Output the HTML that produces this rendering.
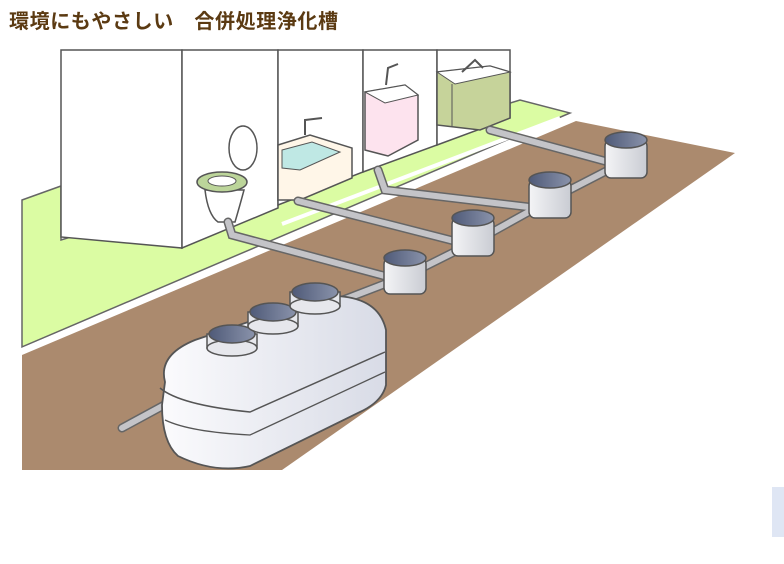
<!DOCTYPE html>
<html><head><meta charset="utf-8"><style>
html,body{margin:0;padding:0;background:#fff;width:784px;height:564px;overflow:hidden;position:relative}
.t{position:absolute;left:9px;top:5px;font:bold 20px "Liberation Sans","Noto Sans CJK JP",sans-serif;color:#5b3a12;letter-spacing:0.6px}
.b{position:absolute;left:772px;top:487px;width:12px;height:50px;background:#dfe6f4}
svg{position:absolute;left:0;top:0}
</style></head><body>
<div class="t">環境にもやさしい　合併処理浄化槽</div>
<div class="b"></div>
<svg width="784" height="564" viewBox="0 0 784 564">
<defs>
<linearGradient id="tg" x1="0" x2="1"><stop offset="0" stop-color="#fbfbfd"/><stop offset="1" stop-color="#d8dbe6"/></linearGradient>
<linearGradient id="mg" x1="0" x2="1"><stop offset="0" stop-color="#f4f4f6"/><stop offset="1" stop-color="#c9ccd3"/></linearGradient>
<linearGradient id="lg" x1="0" x2="1"><stop offset="0" stop-color="#4f5a78"/><stop offset="1" stop-color="#8a93ab"/></linearGradient>
</defs>
<polygon points="22,200 61,186 61,240 520,100 570,113 22,347" fill="#dbfca3" stroke="#666" stroke-width="1.5"/>
<polygon points="22,355 576,121 735,153 282,470 22,470" fill="#ab8a6e"/>
<line x1="22" y1="351" x2="575" y2="117" stroke="#fff" stroke-width="6"/>
<line x1="282" y1="224" x2="560" y2="118" stroke="#fff" stroke-width="4"/>
<polygon points="61,50 182,50 182,248 61,237" fill="#fff" stroke="#555" stroke-width="1.5"/>
<polygon points="182,50 278,50 278,208 182,248" fill="#fff" stroke="#555" stroke-width="1.5"/>
<polygon points="278,50 363,50 363,172 278,205" fill="#fff" stroke="#555" stroke-width="1.5"/>
<polygon points="363,50 437,50 437,145 363,172" fill="#fff" stroke="#555" stroke-width="1.5"/>
<polygon points="437,50 510,50 510,118 437,145" fill="#fff" stroke="#555" stroke-width="1.5"/>
<ellipse cx="243" cy="148" rx="14" ry="22" fill="#fff" stroke="#555" stroke-width="1.5"/>
<path d="M205,190 Q208,215 218,222 L235,222 Q240,205 244,190 Z" fill="#fff" stroke="#555" stroke-width="1.5"/>
<ellipse cx="222" cy="182" rx="25" ry="10" fill="#bcd59a" stroke="#555" stroke-width="1.5"/>
<ellipse cx="222" cy="181" rx="14" ry="5" fill="#fff" stroke="#555"/>
<polygon points="278,145 310,135 352,148 352,178 300,200 278,200" fill="#fff6e8" stroke="#555" stroke-width="1.5"/>
<path d="M282,150 L312,142 L340,152 L300,170 L282,168 Z" fill="#bfe8e4" stroke="#555"/>
<path d="M305,135 L305,120 L322,118" fill="none" stroke="#555" stroke-width="2"/>
<polygon points="365,92 405,85 418,95 418,140 388,156 365,150" fill="#fde3ee" stroke="#555" stroke-width="1.5"/>
<polygon points="365,92 405,85 418,95 385,103" fill="#fff" stroke="#555"/>
<path d="M386,85 L388,68 L398,64" fill="none" stroke="#555" stroke-width="2"/>
<polygon points="437,72 490,66 510,72 510,118 480,130 437,125" fill="#c6d39a" stroke="#555" stroke-width="1.5"/>
<polygon points="437,72 490,66 510,72 455,84" fill="#fff" stroke="#555"/>
<line x1="452" y1="84" x2="452" y2="126" stroke="#555"/>
<path d="M462,72 L475,60 L483,68" fill="none" stroke="#555" stroke-width="2"/>
<g stroke="#666" stroke-width="9" stroke-linecap="round" fill="none">
<path d="M228,222 L232,235 L392,278"/><path d="M298,201 L462,243"/><path d="M378,170 L385,190 L537,208"/><path d="M490,130 L612,163"/>
<path d="M612,168 L550,200 L478,240 L408,275 L330,305"/><path d="M192,390 L122,428"/>
</g>
<g stroke="#c4c4c8" stroke-width="6" stroke-linecap="round" fill="none">
<path d="M228,222 L232,235 L392,278"/><path d="M298,201 L462,243"/><path d="M378,170 L385,190 L537,208"/><path d="M490,130 L612,163"/>
<path d="M612,168 L550,200 L478,240 L408,275 L330,305"/><path d="M192,390 L122,428"/>
</g>
<g stroke="#555" stroke-width="1.5">
<g><rect x="384" y="258" width="42" height="36" rx="6" fill="url(#mg)"/><ellipse cx="405" cy="258" rx="21" ry="8" fill="url(#lg)"/></g>
<g><rect x="452" y="218" width="42" height="38" rx="6" fill="url(#mg)"/><ellipse cx="473" cy="218" rx="21" ry="8" fill="url(#lg)"/></g>
<g><rect x="529" y="180" width="42" height="38" rx="6" fill="url(#mg)"/><ellipse cx="550" cy="180" rx="21" ry="8" fill="url(#lg)"/></g>
<g><rect x="605" y="140" width="42" height="38" rx="6" fill="url(#mg)"/><ellipse cx="626" cy="140" rx="21" ry="8" fill="url(#lg)"/></g>
</g>
<path d="M165,382 Q158,355 195,340 L325,296 Q378,294 386,330 L386,385 Q382,402 360,412 L250,466 Q215,474 178,456 Q162,442 162,405 Z" fill="url(#tg)" stroke="#555" stroke-width="1.8"/>
<path d="M160,388 Q180,405 250,412 L385,352" fill="none" stroke="#555" stroke-width="1.5"/>
<path d="M165,420 Q190,432 250,435 L385,372" fill="none" stroke="#555" stroke-width="1.3"/>
<g stroke="#555" stroke-width="1.5">
<rect x="207" y="334" width="50" height="14" fill="#e6e7ec"/><ellipse cx="232" cy="348" rx="25" ry="8" fill="#e6e7ec"/><ellipse cx="232" cy="334" rx="23" ry="9" fill="url(#lg)"/>
<rect x="248" y="312" width="50" height="14" fill="#e6e7ec"/><ellipse cx="273" cy="326" rx="25" ry="8" fill="#e6e7ec"/><ellipse cx="273" cy="312" rx="23" ry="9" fill="url(#lg)"/>
<rect x="290" y="292" width="50" height="14" fill="#e6e7ec"/><ellipse cx="315" cy="306" rx="25" ry="8" fill="#e6e7ec"/><ellipse cx="315" cy="292" rx="23" ry="9" fill="url(#lg)"/>
</g>
</svg>
</body></html>
